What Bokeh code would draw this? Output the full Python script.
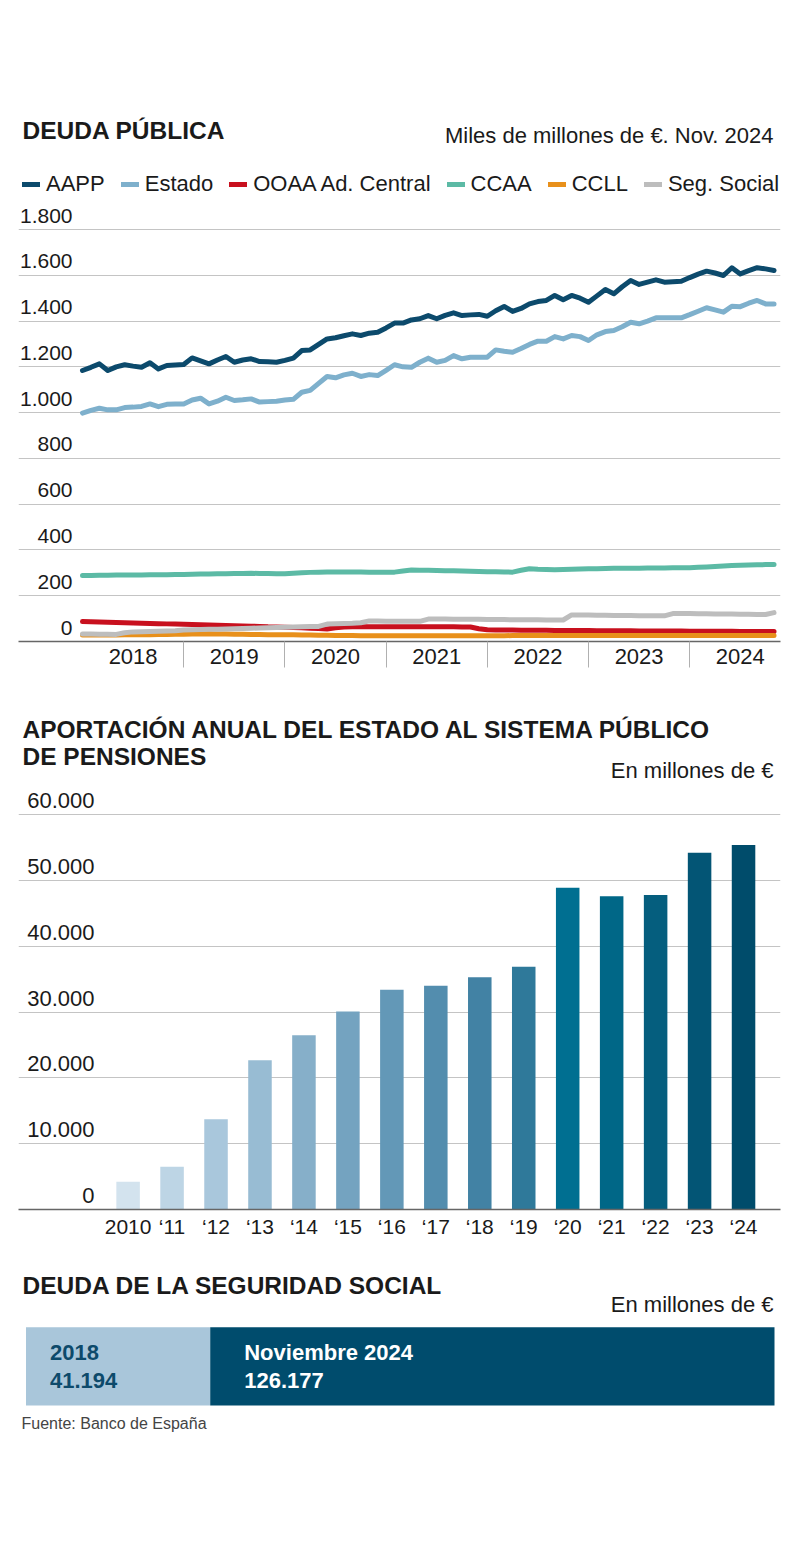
import numpy as np
from bokeh.plotting import figure
from bokeh.models import Range1d, FixedTicker, Legend, LegendItem
from bokeh.layouts import column
from bokeh.core.properties import value
from bokeh.embed import file_html
from bokeh.resources import INLINE

FONT = "Liberation Sans"
INK = "#1a1a1a"

# ---------------- DATA ----------------
# Deuda pública, miles de millones de euros, mensual ene-2018 .. nov-2024
start_year = 2018
aapp = [1184, 1198, 1213, 1184, 1200, 1209, 1203, 1198, 1218, 1191,
        1206, 1208, 1210, 1239, 1226, 1213, 1230, 1245, 1220, 1230,
        1235, 1223, 1222, 1220, 1228, 1238, 1271, 1274, 1298, 1322,
        1327, 1336, 1344, 1337, 1347, 1351, 1370, 1391, 1391, 1405,
        1410, 1424, 1410, 1425, 1436, 1424, 1427, 1429, 1421, 1445,
        1464, 1442, 1455, 1475, 1485, 1490, 1512, 1493, 1512, 1500,
        1482, 1510, 1538, 1519, 1550, 1577, 1560, 1570, 1580, 1570,
        1572, 1574, 1590, 1605, 1618, 1610, 1599, 1633, 1606, 1620,
        1633, 1628, 1621]
estado = [998, 1010, 1019, 1012, 1012, 1022, 1024, 1027, 1038, 1026,
          1036, 1038, 1038, 1055, 1063, 1038, 1050, 1067, 1053, 1056,
          1060, 1046, 1048, 1050, 1055, 1058, 1089, 1097, 1128, 1158,
          1152, 1165, 1172, 1158, 1166, 1162, 1185, 1209, 1200, 1198,
          1220, 1238, 1220, 1228, 1249, 1235, 1242, 1242, 1242, 1274,
          1268, 1264, 1280, 1298, 1312, 1312, 1332, 1322, 1337, 1332,
          1315, 1340, 1354, 1359, 1375, 1395, 1388, 1400, 1414, 1414,
          1414, 1414, 1428, 1443, 1458, 1449, 1439, 1465, 1463, 1478,
          1490, 1475, 1475]
ooaa = [87, 86, 85, 84, 83, 82, 81, 80, 79, 78,
        77, 76, 75, 74, 73, 72, 71, 70, 69, 68,
        67, 66, 64, 63, 62, 61, 60, 58, 57, 55,
        60, 63, 64, 64, 64, 64, 64, 64, 64, 64,
        64, 64, 64, 64, 64, 63, 63, 56, 51, 50,
        50, 50, 49, 49, 49, 49, 48, 48, 48, 48,
        48, 47, 47, 47, 47, 47, 46, 46, 46, 46,
        46, 46, 45, 45, 45, 45, 45, 45, 44, 44,
        44, 44, 44]
ccaa = [288, 288, 289, 289, 290, 290, 291, 291, 292, 292,
        292, 293, 293, 294, 295, 295, 296, 296, 297, 297,
        298, 297, 297, 296, 296, 298, 300, 302, 303, 304,
        304, 304, 304, 304, 303, 303, 303, 303, 308, 312,
        311, 311, 310, 309, 309, 308, 307, 306, 305, 305,
        304, 303, 311, 318, 316, 315, 314, 315, 316, 317,
        318, 318, 319, 320, 320, 320, 320, 321, 321, 321,
        322, 322, 322, 324, 326, 328, 330, 332, 333, 334,
        335, 336, 336]
ccll = [28, 28, 28, 28, 28, 29, 29, 30, 30, 31,
        31, 32, 32, 33, 33, 34, 33, 33, 32, 32,
        31, 31, 30, 30, 29, 29, 28, 28, 27, 27,
        26, 26, 26, 25, 25, 25, 25, 25, 25, 25,
        25, 25, 25, 25, 25, 25, 25, 25, 25, 25,
        25, 26, 26, 26, 26, 26, 26, 26, 26, 26,
        26, 26, 26, 26, 26, 26, 26, 26, 26, 26,
        26, 26, 26, 26, 26, 26, 26, 26, 26, 26,
        26, 26, 26]
seg_social = [33, 33, 32, 32, 31, 38, 42, 43, 44, 45,
              46, 47, 50, 51, 52, 53, 54, 55, 56, 57,
              58, 59, 60, 61, 62, 63, 64, 65, 66, 76,
              78, 79, 80, 82, 90, 90, 89, 89, 89, 88,
              88, 98, 98, 98, 97, 97, 97, 97, 96, 96,
              96, 95, 95, 95, 95, 94, 94, 94, 116, 116,
              116, 115, 115, 114, 114, 114, 113, 113, 112, 112,
              122, 122, 122, 121, 121, 120, 120, 120, 119, 119,
              118, 118, 126]
series_names = ["AAPP", "Estado", "OOAA Ad. Central", "CCAA", "CCLL", "Seg. Social"]
series_values = [aapp, estado, ooaa, ccaa, ccll, seg_social]
series_colors = ["#0c4a6c", "#7eb0cc", "#c8101e", "#5cbaa5", "#e8901b", "#bdbdbd"]
debt_years = ["2018", "2019", "2020", "2021", "2022", "2023", "2024"]
debt_ticks = [0, 200, 400, 600, 800, 1000, 1200, 1400, 1600, 1800]

# Aportación anual del Estado al sistema público de pensiones, millones de euros
pension_labels = ["2010", "\u201811", "\u201812", "\u201813", "\u201814", "\u201815", "\u201816",
                  "\u201817", "\u201818", "\u201819", "\u201820", "\u201821", "\u201822",
                  "\u201823", "\u201824"]
pension_values = [4230, 6500, 13700, 22700, 26500, 30100, 33400, 34000, 35300,
                  36900, 48900, 47600, 47800, 54200, 55400]
pension_colors = ["#d3e3ee", "#bdd5e5", "#a9c7dc", "#98bcd3", "#86afc9", "#74a3c0",
                  "#6398b7", "#538dae", "#4282a4", "#2f799a", "#006f91", "#006787",
                  "#055e7e", "#035575", "#004c6b"]
pension_ticks = [0, 10000, 20000, 30000, 40000, 50000, 60000]

# Deuda de la Seguridad Social, millones de euros
ss_labels = ["2018", "Noviembre 2024"]
ss_values = [41194, 126177]
ss_colors = ["#a9c6da", "#004c6d"]
ss_text_colors = ["#0d4a6b", "#ffffff"]


def es_num(v):
    return f"{v:,.0f}".replace(",", ".")


W = 800
L, R = 18, 20
H1, H2, H3 = 690, 560, 302
TXT = dict(text_baseline="alphabetic", text_font=value(FONT), text_color=INK)
TITLE_SIZE = "24.5px"

# ---------------- FIGURE 1: Deuda pública ----------------
F1_BOTTOM = 641
X2018 = 82.0
PX_YEAR = 101.2
SY1 = 412 / 1800


def fx1(px):
    return start_year + (px - X2018) / PX_YEAR


def fy1(py):
    return (F1_BOTTOM - py) / SY1


t = [start_year + m / 12 for m in range(len(aapp))]
p1 = figure(width=W, height=H1, output_backend="svg", toolbar_location=None,
            x_range=Range1d(fx1(L), fx1(W - R)), y_range=Range1d(0, fy1(0)),
            min_border_left=L, min_border_right=R, min_border_top=0,
            min_border_bottom=H1 - F1_BOTTOM, y_axis_location=None,
            outline_line_color=None)
p1.xgrid.visible = False
p1.ygrid.ticker = FixedTicker(ticks=debt_ticks)
p1.ygrid.grid_line_color = "#c4c4c4"
p1.ygrid.grid_line_width = 1.2

mids = [int(y) + 0.5 for y in debt_years]
bounds = [int(y) for y in debt_years[1:]]
ax1 = p1.xaxis[0]
ax1.ticker = FixedTicker(ticks=mids, minor_ticks=bounds)
ax1.major_label_overrides = {m: lab for m, lab in zip(mids, debt_years)}
ax1.major_tick_line_color = None
ax1.major_tick_out = 0
ax1.major_tick_in = 0
ax1.minor_tick_line_color = "#b0b0b0"
ax1.minor_tick_out = 26
ax1.minor_tick_in = 0
ax1.axis_line_color = "#666666"
ax1.axis_line_width = 1.5
ax1.major_label_standoff = -19
ax1.major_label_text_font = FONT
ax1.major_label_text_font_size = "22px"
ax1.major_label_text_color = INK

items = []
for name, vals, col in zip(series_names, series_values, series_colors):
    r = p1.line(t, vals, line_color=col, line_width=5, line_join="round", line_cap="round")
    items.append(LegendItem(label=name, renderers=[r]))

legend = Legend(items=items, orientation="horizontal", location=(22 - L, F1_BOTTOM - 197),
                border_line_color=None, background_fill_alpha=0, padding=0, margin=0,
                spacing=16, label_standoff=6, glyph_width=18, glyph_height=26,
                label_height=26, label_text_font=FONT, label_text_font_size="22px",
                label_text_color=INK, label_text_baseline="middle")
p1.add_layout(legend)

# tick labels: centred about 13 px above each gridline
p1.text(x=[fx1(72)] * len(debt_ticks), y=[v + 14 / SY1 for v in debt_ticks],
        text=[es_num(v) for v in debt_ticks], text_align="right",
        text_font_size="21px", **TXT)
p1.text(x=[fx1(22)], y=[fy1(130)], text=["DEUDA PÚBLICA"], text_align="left",
        text_font_style="bold", text_font_size=TITLE_SIZE, **TXT)
p1.text(x=[fx1(773)], y=[fy1(135)], text=["Miles de millones de €. Nov. 2024"],
        text_align="right", text_font_size="22px", **TXT)

# ---------------- FIGURE 2: Aportación anual ----------------
F2_TOP = H1
BASE2 = 1209
SY2 = 65.8 / 10000
BAR0 = 127.6
BAR_STEP = 43.96


def fx2(px):
    return (px - BAR0) / BAR_STEP


def fy2(py):
    return (BASE2 - py) / SY2


idx = list(range(len(pension_labels)))
p2 = figure(width=W, height=H2, output_backend="svg", toolbar_location=None,
            x_range=Range1d(fx2(L), fx2(W - R)), y_range=Range1d(0, fy2(F2_TOP)),
            min_border_left=L, min_border_right=R, min_border_top=0,
            min_border_bottom=F2_TOP + H2 - BASE2, y_axis_location=None,
            outline_line_color=None)
p2.xgrid.visible = False
p2.ygrid.ticker = FixedTicker(ticks=pension_ticks)
p2.ygrid.grid_line_color = "#c4c4c4"
p2.ygrid.grid_line_width = 1.2
p2.vbar(x=idx, top=pension_values, width=0.535, fill_color=pension_colors, line_color=None)

ax2 = p2.xaxis[0]
ax2.ticker = FixedTicker(ticks=idx)
ax2.major_label_overrides = {i: lab for i, lab in zip(idx, pension_labels)}
ax2.major_tick_line_color = None
ax2.major_tick_out = 0
ax2.major_tick_in = 0
ax2.minor_tick_line_color = None
ax2.axis_line_color = "#666666"
ax2.axis_line_width = 1.5
ax2.major_label_standoff = 5
ax2.major_label_text_font = FONT
ax2.major_label_text_font_size = "21px"
ax2.major_label_text_color = INK

p2.text(x=[fx2(94)] * len(pension_ticks), y=[v + 14 / SY2 for v in pension_ticks],
        text=[es_num(v) for v in pension_ticks], text_align="right",
        text_font_size="22px", **TXT)
title2 = ["APORTACIÓN ANUAL DEL ESTADO AL SISTEMA PÚBLICO", "DE PENSIONES"]
p2.text(x=[fx2(22)] * 2, y=[fy2(729), fy2(756)], text=title2, text_align="left",
        text_font_style="bold", text_font_size=TITLE_SIZE, **TXT)
p2.text(x=[fx2(773)], y=[fy2(770)], text=["En millones de €"], text_align="right",
        text_font_size="22px", **TXT)

# ---------------- FIGURE 3: Deuda de la Seguridad Social ----------------
F3_TOP = H1 + H2
BX0, BX1 = 25.5, 774.0
total = sum(ss_values)
SX3 = (BX1 - BX0) / total
BAR_TOP, BAR_BOT = 1326.7, 1405.0
UNIT3 = BAR_BOT - BAR_TOP
C3 = (BAR_TOP + BAR_BOT) / 2


def fx3(px):
    return (px - BX0) / SX3


def fy3(py):
    return (C3 - py) / UNIT3


p3 = figure(width=W, height=H3, output_backend="svg", toolbar_location=None,
            x_range=Range1d(fx3(L), fx3(W - R)),
            y_range=Range1d(fy3(F3_TOP + H3), fy3(F3_TOP)),
            min_border_left=L, min_border_right=R, min_border_top=0, min_border_bottom=0,
            x_axis_location=None, y_axis_location=None, outline_line_color=None)
p3.xgrid.visible = False
p3.ygrid.visible = False
rights = list(np.cumsum(ss_values))
lefts = [0] + rights[:-1]
p3.hbar(y=[0] * len(ss_values), left=lefts, right=rights, height=1,
        fill_color=ss_colors, line_color=None)
pads = [24, 34]
p3.text(x=[lf + pd / SX3 for lf, pd in zip(lefts, pads)], y=[0] * len(ss_values),
        text=[f"{lab}\n{es_num(v)}" for lab, v in zip(ss_labels, ss_values)],
        text_align="left", text_baseline="middle", text_line_height=1.12,
        text_font=value(FONT), text_font_style="bold", text_font_size="22px",
        text_color=ss_text_colors)
p3.text(x=[fx3(22)], y=[fy3(1285)], text=["DEUDA DE LA SEGURIDAD SOCIAL"], text_align="left",
        text_font_style="bold", text_font_size=TITLE_SIZE, **TXT)
p3.text(x=[fx3(773)], y=[fy3(1304)], text=["En millones de €"], text_align="right",
        text_font_size="22px", **TXT)
p3.text(x=[fx3(21)], y=[fy3(1423)], text=["Fuente: Banco de España"], text_align="left",
        text_baseline="alphabetic", text_font=value(FONT), text_font_size="16px",
        text_color="#444444")

layout = column(p1, p2, p3, spacing=0)
open("out.html", "w").write(file_html(layout, INLINE))
